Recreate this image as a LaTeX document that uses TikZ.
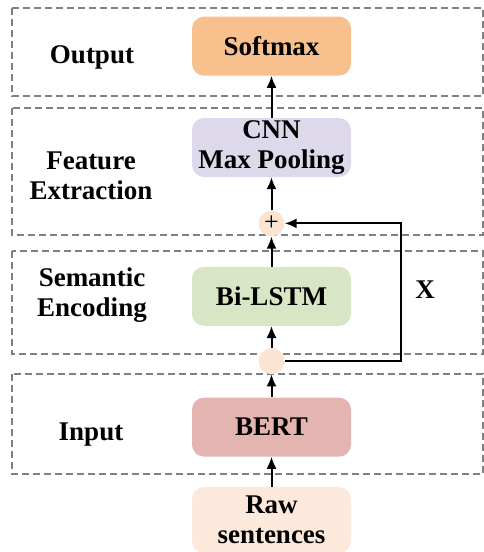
\documentclass[tikz,border=0pt]{standalone}
\usepackage{fontspec}
\setmainfont{Liberation Serif}
\usetikzlibrary{positioning,arrows.meta}

\definecolor{softfill}{HTML}{F8C08C}
\definecolor{cnnfill}{HTML}{DDD8EA}
\definecolor{lstmfill}{HTML}{D8E6C6}
\definecolor{bertfill}{HTML}{E4B4B0}
\definecolor{rawfill}{HTML}{FCE9DB}
\definecolor{jointfill}{HTML}{FCE4D4}

\begin{document}
\begin{tikzpicture}[x=1pt, y=-1pt,
    font=\fontsize{27}{30}\selectfont\bfseries,
    block/.style={rounded corners=12pt, minimum width=159pt, minimum height=59pt,
                  align=center, inner sep=0pt},
    joint/.style={circle, fill=jointfill, minimum size=26pt, inner sep=0pt},
    layer/.style={draw=gray, dash pattern=on 7pt off 4pt, line width=1.4pt},
    flow/.style={-{Latex[length=12pt,width=10pt]}, line width=2pt}]
    \useasboundingbox (0,0) rectangle (484,552);

    % layers
    \draw[layer] (12,8) rectangle (483,96);
    \draw[layer] (12,108) rectangle (483,235);
    \draw[layer] (12,251) rectangle (483,354);
    \draw[layer] (12,374) rectangle (483,474);

    \node (outlbl) at (92,57) {Output};
    \node[align=center] (featlbl) at (91,176) {Feature\\Extraction};
    \node[align=center] (semlbl) at (92,295) {Semantic\\Encoding};
    \node (inlbl) at (91,435) {Input};

    % model stack
    \node[block, fill=rawfill, minimum height=66pt] (raw) at (271.5,520) {Raw\\sentences};
    \node[block, fill=bertfill, above=30pt of raw] (bert) {BERT};
    \node[joint, above=23pt of bert] (mix) {};
    \node[block, fill=lstmfill, above=22pt of mix] (lstm) {Bi-LSTM};
    \node[joint, above=30pt of lstm, font=\normalfont\fontsize{26}{26}\selectfont] (plus) {+};
    \node[block, fill=cnnfill, above=33pt of plus] (cnn) {CNN\\Max Pooling};
    \node[block, fill=softfill, above=42pt of cnn] (soft) {Softmax};

    \draw[flow] (raw) -- (bert);
    \draw[flow] (bert) -- (mix);
    \draw[flow] (mix) -- (lstm);
    \draw[flow] (lstm) -- (plus);
    \draw[flow] (plus) -- (cnn);
    \draw[flow] (cnn) -- (soft);

    % residual path
    \draw[flow] (mix.east) -- ++(116,0) |- (plus.east);
    \node (xlbl) at (425,290) {X};
\end{tikzpicture}
\end{document}
